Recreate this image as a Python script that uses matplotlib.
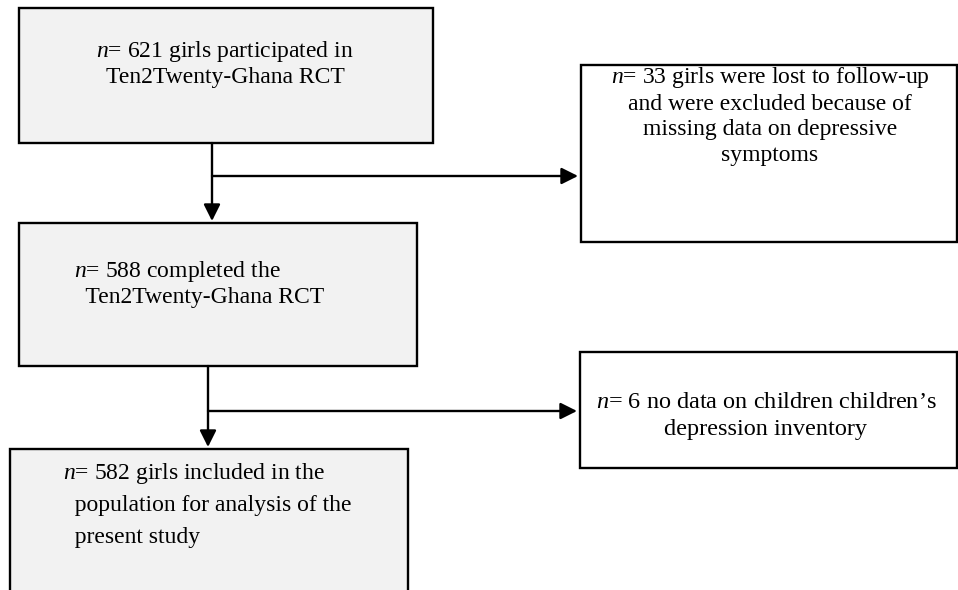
import matplotlib
matplotlib.use("Agg")
import matplotlib.pyplot as plt
from matplotlib.patches import Rectangle

plt.rcParams['font.family'] = ['Liberation Serif', 'DejaVu Serif']
plt.rcParams['mathtext.fontset'] = 'custom'
plt.rcParams['mathtext.it'] = 'Liberation Serif:italic'
plt.rcParams['mathtext.rm'] = 'Liberation Serif'

# flowchart content: counts and the text of each step
counts = [621, 33, 588, 6, 582]
box_lines = [
    [r"$\it{n}$= %d girls participated in" % counts[0], "Ten2Twenty-Ghana RCT"],
    [r"$\it{n}$= %d girls were lost to follow-up" % counts[1], "and were excluded because of",
     "missing data on depressive", "symptoms"],
    [r"$\it{n}$= %d completed the" % counts[2], "  Ten2Twenty-Ghana RCT"],
    [r"$\it{n}$= %d no data on children children’s" % counts[3], "depression inventory"],
    [r"$\it{n}$= %d girls included in the" % counts[4], "  population for analysis of the",
     "  present study"],
]
# box geometry in pixels: x0, y0, x1, y1
boxes = [(19, 8, 433, 143), (581, 65, 957, 242), (19, 223, 417, 366),
         (580, 352, 957, 468), (10, 449, 408, 600)]
fills = ['#f2f2f2', 'white', '#f2f2f2', 'white', '#f2f2f2']

fig = plt.figure(figsize=(9.58, 5.90), dpi=100)
ax = fig.add_axes([0, 0, 1, 1])
ax.set_xlim(0, 958)
ax.set_ylim(590, 0)
ax.axis('off')

for (x0, y0, x1, y1), fc in zip(boxes, fills):
    ax.add_patch(Rectangle((x0, y0), x1 - x0, y1 - y0, facecolor=fc,
                           edgecolor='black', linewidth=1.7))

fs = 17
# box 1: centred
for i, t in enumerate(box_lines[0]):
    ax.text(225, 51 + i * 27, t, ha='center', va='center', fontsize=fs)
# box 2: centred
for i, t in enumerate(box_lines[1]):
    ax.text(770, 78 + i * 26, t, ha='center', va='center', fontsize=fs)
# box 3: left
for i, t in enumerate(box_lines[2]):
    ax.text(74, 272 + i * 26, t, ha='left', va='center', fontsize=fs)
# box 4: centred
for i, t in enumerate(box_lines[3]):
    ax.text(766, 402 + i * 27, t, ha='center', va='center', fontsize=17.5)
# box 5: left
for i, t in enumerate(box_lines[4]):
    ax.text(63, 473 + i * 32, t, ha='left', va='center', fontsize=fs)

arrow = dict(arrowstyle='-|>', color='black', lw=1.7, mutation_scale=25,
             shrinkA=0, shrinkB=0)
# main flow
ax.annotate('', xy=(212, 221), xytext=(212, 143), arrowprops=arrow)
ax.annotate('', xy=(208, 447), xytext=(208, 366), arrowprops=arrow)
# exclusions
ax.annotate('', xy=(578, 176), xytext=(212, 176), arrowprops=arrow)
ax.annotate('', xy=(577, 411), xytext=(208, 411), arrowprops=arrow)

fig.savefig('out.png', dpi=100)
